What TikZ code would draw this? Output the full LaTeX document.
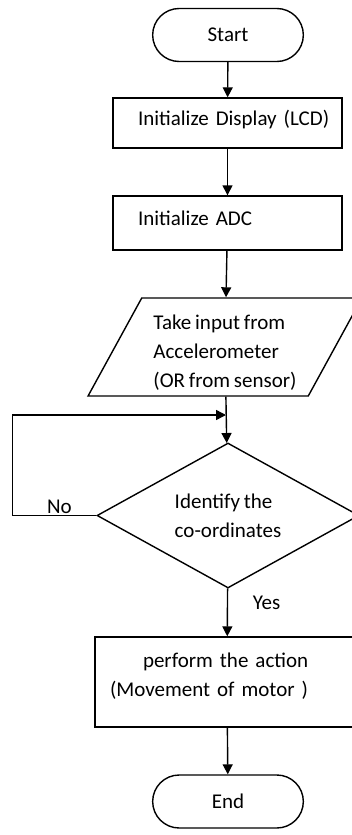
\documentclass[tikz,border=0pt]{standalone}
\usepackage{fontspec}
\setmainfont{Carlito}[WordSpace=0.8]
\usetikzlibrary{shapes.geometric,shapes.misc,arrows.meta}

\begin{document}
\begin{tikzpicture}[x=0.5pt, y=-0.5pt, line width=0.7pt,
  font=\fontsize{10.5}{14.5}\selectfont,
  term/.style={rounded rectangle, draw, minimum width=82pt, minimum height=26.5pt},
  proc/.style={rectangle, draw, align=left, text width=89.5pt, inner xsep=12.5pt},
  io/.style={trapezium, draw, trapezium left angle=60.7, trapezium right angle=119.3,
    trapezium stretches=true, minimum width=137pt, minimum height=49pt, align=left},
  test/.style={diamond, draw, aspect=1.8, inner sep=0pt, minimum width=131pt,
    minimum height=72.5pt, align=left},
  flow/.style={-{Triangle[length=5pt,width=5pt]}}]
\useasboundingbox (0,0) rectangle (352,835);
\clip (0,0) rectangle (352,835);

\draw
(228, 35) node[term](start){Start}
(227.5, 123) node[proc, minimum height=25pt, text depth=5pt](lcd){\mbox{Initialize Display (LCD)}}
(227.5, 223) node[proc, minimum height=27pt, text depth=5pt](adc){Initialize ADC}
(225, 347) node[io, inner ysep=1pt](input){\rule{0pt}{12.5pt}Take input from\\Accelerometer\\(OR from sensor)}
(228, 515.5) node[test](decide){Identify the\\co-ordinates}
(227, 682) node[proc, text width=117pt, inner xsep=7.5pt, inner ysep=0pt, minimum height=45pt, text depth=22pt](action){\hspace*{16.5pt}perform the action\\(Movement of motor )}
(228, 801.5) node[term](stop){End};

\coordinate (merge) at (226, 415);

\draw[flow] (start) -- (lcd);
\draw[flow] (lcd) -- (adc);
\draw[flow] (adc) -- (input);
\draw[flow] (input) -- (decide);
\draw[flow] (decide.west) -- node[above=-3pt, pos=0.44]{No} ++(-84, 0) |- (merge);
\draw[flow] (decide) -- node[right=9pt, pos=0.3]{Yes} (action);
\draw[flow] (action) -- (stop);

\end{tikzpicture}
\end{document}
